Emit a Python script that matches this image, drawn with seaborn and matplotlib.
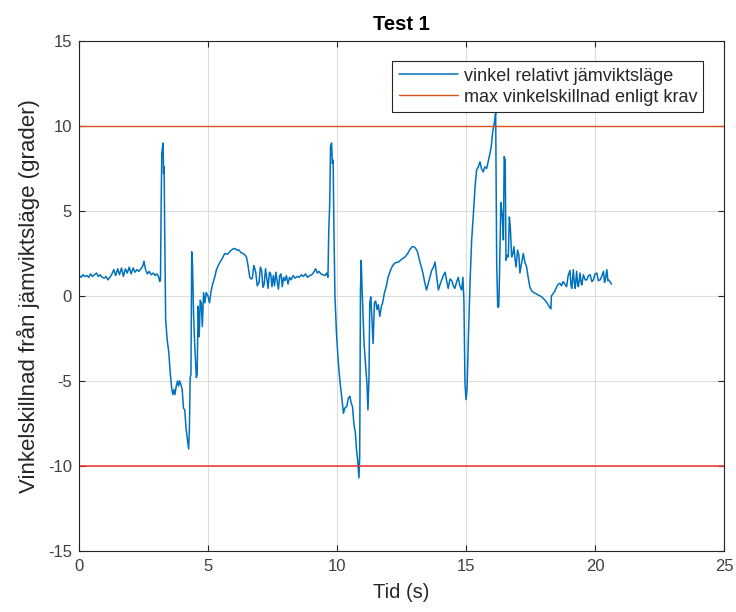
import numpy as np
import pandas as pd
import seaborn as sns
import matplotlib
matplotlib.use("Agg")
import matplotlib.pyplot as plt

# tid (s) och vinkel (grader), avlästa från referensen
tid = [
    # lugnt läge i början
    0.00, 0.08, 0.15, 0.22, 0.30, 0.38, 0.45, 0.52, 0.60, 0.68, 0.75, 0.82, 0.90, 0.98,
    1.05, 1.12, 1.20, 1.28, 1.35, 1.42, 1.50, 1.57, 1.65, 1.72, 1.80, 1.87, 1.95, 2.02,
    2.10, 2.17, 2.25, 2.32, 2.40, 2.47, 2.52, 2.58, 2.65, 2.72, 2.80, 2.88, 2.95, 3.02,
    3.08, 3.13, 3.16,
    # första störningen
    3.18, 3.21, 3.24, 3.26, 3.28, 3.30, 3.32, 3.36, 3.42, 3.48, 3.54, 3.60, 3.64, 3.68,
    3.72, 3.77, 3.82, 3.86, 3.90, 3.95, 4.00, 4.05, 4.10, 4.15, 4.20, 4.25, 4.28, 4.31,
    4.34, 4.37, 4.40, 4.44, 4.49, 4.55, 4.58, 4.62, 4.66, 4.70, 4.74, 4.78, 4.83, 4.88,
    4.93, 5.00, 5.06, 5.12, 5.19, 5.26, 5.32, 5.40, 5.47, 5.55, 5.65, 5.75, 5.84, 5.95,
    6.04, 6.12, 6.20, 6.28, 6.36, 6.44, 6.49, 6.54, 6.58, 6.62, 6.68,
    # brusigt mellanparti
    6.72, 6.78, 6.85, 6.91, 6.98, 7.03, 7.08, 7.13, 7.18, 7.23, 7.28, 7.33, 7.38, 7.43,
    7.48, 7.53, 7.58, 7.63, 7.68, 7.73, 7.78, 7.83, 7.88, 7.93, 7.98, 8.04, 8.10, 8.16,
    8.22, 8.30, 8.38, 8.46, 8.54, 8.62, 8.70, 8.78, 8.86, 8.94, 9.02, 9.10, 9.17, 9.24,
    9.30, 9.38, 9.46, 9.54, 9.60, 9.65,
    # andra störningen
    9.68, 9.72, 9.75, 9.79, 9.82, 9.85, 9.88, 9.92, 9.98, 10.05, 10.12, 10.18, 10.25,
    10.30, 10.38, 10.44, 10.50, 10.55, 10.60, 10.66, 10.71, 10.76, 10.80, 10.85, 10.88,
    10.91, 10.94, 10.97, 11.01, 11.05, 11.10, 11.16, 11.20, 11.24, 11.27, 11.31, 11.35,
    11.40, 11.45, 11.50, 11.55, 11.60, 11.66, 11.72, 11.77, 11.84, 11.90, 11.98, 12.07,
    12.16, 12.26, 12.38, 12.50, 12.64, 12.74, 12.83, 12.92, 12.98, 13.05, 13.12, 13.20,
    13.27, 13.33, 13.40, 13.47, 13.53, 13.60, 13.67, 13.74, 13.80, 13.86, 13.93, 14.00,
    14.06, 14.12, 14.19, 14.25, 14.31, 14.38, 14.45, 14.51, 14.57, 14.63, 14.70, 14.76,
    14.83, 14.88, 14.92,
    # tredje störningen
    14.96, 15.00, 15.04, 15.09, 15.16, 15.22, 15.28, 15.35, 15.41, 15.48, 15.54, 15.60,
    15.67, 15.73, 15.80, 15.86, 15.93, 15.98, 16.03, 16.10, 16.15, 16.19, 16.23, 16.27,
    16.30, 16.35, 16.40, 16.45, 16.48, 16.52, 16.55, 16.60, 16.64, 16.68, 16.72, 16.77,
    16.82, 16.86, 16.90, 16.94, 17.00, 17.05, 17.09, 17.15, 17.22, 17.28, 17.35, 17.42,
    17.48, 17.55, 17.62, 17.70, 17.80, 17.88, 17.97, 18.06, 18.14, 18.20, 18.26, 18.29,
    18.31, 18.38, 18.45, 18.52,
    # slutet
    18.58, 18.64, 18.70, 18.77, 18.83, 18.90, 18.96, 19.03, 19.07, 19.10, 19.16, 19.20,
    19.23, 19.29, 19.33, 19.36, 19.42, 19.46, 19.49, 19.55, 19.62, 19.68, 19.75, 19.81,
    19.88, 19.94, 20.00, 20.07, 20.13, 20.20, 20.27, 20.33, 20.37, 20.40, 20.46, 20.50,
    20.52, 20.58, 20.64,
]
vinkel = [
    1.20, 1.10, 1.25, 1.15, 1.20, 1.10, 1.30, 1.15, 1.25, 1.35, 1.15, 1.25, 1.10, 1.05,
    1.15, 0.95, 1.10, 1.30, 1.55, 1.20, 1.60, 1.25, 1.65, 1.15, 1.60, 1.35, 1.70, 1.30,
    1.65, 1.40, 1.55, 1.45, 1.60, 1.75, 2.05, 1.55, 1.30, 1.45, 1.25, 1.35, 1.20, 1.30,
    1.15, 0.85, 1.00,
    4.60, 8.40, 8.80, 9.00, 7.20, 7.60, 4.20, -1.40, -2.60, -3.30, -4.60, -5.50, -5.80, -5.50,
    -5.80, -5.30, -5.00, -5.30, -5.00, -5.20, -5.50, -6.60, -6.70, -7.80, -8.40, -9.00, -7.80, -4.80,
    -4.60, 2.60, 1.90, -1.00, -3.00, -4.80, -4.60, -0.60, -2.40, -0.25, -0.40, -1.80, 0.20, -0.40,
    0.20, 0.00, -0.40, 0.30, 0.75, 1.10, 1.50, 1.80, 2.00, 2.20, 2.50, 2.45, 2.60, 2.75,
    2.80, 2.70, 2.70, 2.55, 2.50, 2.40, 2.30, 1.90, 1.50, 1.10, 1.00,
    1.05, 1.80, 1.40, 0.60, 0.80, 1.70, 1.50, 0.50, 0.70, 1.60, 1.00, 0.45, 1.40, 1.30,
    0.55, 1.20, 0.60, 1.40, 0.90, 0.40, 1.20, 1.30, 0.55, 1.10, 0.90, 1.20, 0.70, 1.10,
    0.95, 1.20, 1.05, 1.15, 1.10, 1.25, 1.15, 1.30, 1.10, 1.20, 1.25, 1.40, 1.60, 1.35,
    1.45, 1.30, 1.25, 1.20, 1.35, 1.10,
    3.80, 5.50, 8.80, 9.00, 7.80, 8.00, 4.10, 0.05, -2.20, -3.90, -5.10, -5.90, -6.90,
    -6.60, -6.50, -6.00, -5.90, -6.30, -6.50, -7.60, -8.00, -9.10, -9.60, -10.70, -9.50,
    0.35, 2.10, 0.50, -1.20, -2.80, -3.90, -5.10, -6.70, -4.80, -0.40, -0.05, -1.20,
    -2.80, -0.40, -0.30, -0.80, -0.50, -1.20, -0.60, -0.40, 0.20, 0.50, 1.10, 1.50,
    1.80, 1.95, 2.00, 2.15, 2.30, 2.50, 2.75, 2.90, 2.90, 2.80, 2.60, 2.10,
    1.70, 1.35, 0.80, 0.35, 0.70, 1.10, 1.50, 1.70, 2.00, 1.20, 0.35, 0.70,
    0.95, 1.20, 1.40, 0.90, 0.45, 1.00, 0.90, 0.60, 0.45, 0.80, 1.10, 0.60,
    0.35, 1.10, -0.25,
    -5.10, -6.10, -5.50, -2.60, 0.95, 3.30, 4.65, 6.40, 7.40, 7.60, 7.90, 7.50,
    7.30, 7.60, 7.50, 7.90, 8.40, 8.80, 9.60, 10.20, 10.80, 1.90, -0.65, -0.65,
    1.35, 5.50, 4.80, 3.30, 8.20, 8.00, 2.10, 2.40, 2.30, 4.65, 4.00, 2.30,
    2.50, 2.90, 2.20, 1.70, 2.70, 2.40, 1.35, 1.90, 2.50, 2.00, 1.70, 1.00,
    0.50, 0.30, 0.20, 0.15, 0.05, 0.00, -0.10, -0.25, -0.40, -0.55, -0.70, -0.75,
    0.00, 0.15, 0.30, 0.55,
    0.70, 0.75, 0.60, 0.85, 0.70, 0.55, 1.20, 1.50, 0.60, 0.45, 1.55, 0.70,
    0.45, 1.45, 0.60, 0.55, 1.35, 0.80, 0.65, 1.25, 0.95, 0.95, 1.20, 1.25,
    0.85, 0.95, 1.30, 1.35, 0.90, 0.95, 1.20, 1.45, 0.80, 0.95, 1.55, 0.90,
    0.95, 0.85, 0.70,
]
krav = 10  # max vinkelskillnad enligt krav

df = pd.DataFrame({"tid": tid, "vinkel": vinkel})

sns.set_style("whitegrid")
plt.rcParams['font.family'] = ['Liberation Sans', 'DejaVu Sans']
plt.rcParams['axes.unicode_minus'] = False

fig = plt.figure(figsize=(7.36, 6.12), dpi=100)
ax = fig.add_axes([0.1073, 0.0997, 0.8764, 0.8333])

sns.lineplot(data=df, x="tid", y="vinkel", sort=False, estimator=None,
             color="#0072BD", lw=1.1, label="vinkel relativt jämviktsläge", ax=ax)
ax.axhline(krav, color="#D95319", lw=1.0, label="max vinkelskillnad enligt krav")
ax.axhline(-krav, color="#F03030", lw=1.1)

ax.set_xlim(0, 25)
ax.set_ylim(-15, 15)
ax.set_xticks(np.arange(0, 26, 5))
ax.set_yticks(np.arange(-15, 16, 5))
ax.grid(True, color="#DCDCDC", lw=0.8)
for s in ax.spines.values():
    s.set_visible(True)
    s.set_color("#262626")
    s.set_linewidth(0.8)
ax.tick_params(axis="both", direction="in", length=4, width=0.8, colors="#262626",
               labelcolor="#404040", labelsize=12, top=True, right=True,
               bottom=True, left=True)
ax.tick_params(axis="y", pad=5)
ax.tick_params(axis="x", pad=6)

ax.set_xlabel("Tid (s)", fontsize=14.5, color="#262626", labelpad=6)
ax.set_ylabel("Vinkelskillnad från jämviktsläge (grader)", fontsize=16,
              color="#262626", labelpad=6)
ax.set_title("Test 1", fontsize=14.5, fontweight="bold", color="#000000", pad=8)

leg = ax.legend(loc="upper right", bbox_to_anchor=(0.968, 0.96), borderaxespad=0,
                fancybox=False, framealpha=1, edgecolor="#262626", fontsize=13,
                handlelength=3.3, handletextpad=0.3, borderpad=0.35,
                labelspacing=0.22)
leg.get_frame().set_linewidth(0.8)

fig.savefig("out.png", dpi=100)
